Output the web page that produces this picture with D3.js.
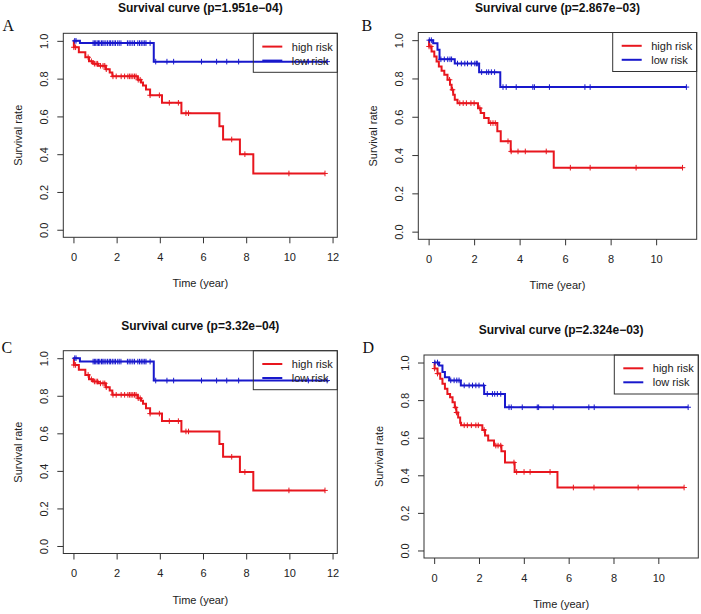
<!DOCTYPE html>
<html>
<head>
<meta charset="utf-8">
<script src="https://cdn.jsdelivr.net/npm/d3@7"></script>
<style>
  body { margin: 0; background: #fff; }
  svg { display: block; font-family: "Liberation Sans", Arial, sans-serif; }
</style>
</head>
<body>
<div id="chart"></div>
<script>
// ---- values: [time (year), survival] steps and censor times ----
const titles = [
  "Survival curve (p=1.951e\u221204)",
  "Survival curve (p=2.867e\u221203)",
  "Survival curve (p=3.32e\u221204)",
  "Survival curve (p=2.324e\u221203)"
];
const letters = ["A", "B", "C", "D"];
const seriesNames = ["high risk", "low risk"];
const yTicks = [0, 0.2, 0.4, 0.6, 0.8, 1.0];
const xTicksLong = [0, 2, 4, 6, 8, 10, 12];
const xTicksShort = [0, 2, 4, 6, 8, 10];

// panel A
const aHigh = [[0, 1], [0.02, 0.966], [0.25, 0.94], [0.55, 0.913], [0.72, 0.892], [0.9, 0.879],
  [1.14, 0.868], [1.5, 0.85], [1.68, 0.833], [1.8, 0.812], [2.98, 0.794], [3.13, 0.78],
  [3.22, 0.763], [3.36, 0.742], [3.55, 0.712], [4.1, 0.672], [5.0, 0.617], [6.76, 0.548],
  [6.93, 0.478], [7.71, 0.40], [8.33, 0.298]];
const aHighCens = [0.02, 0.1, 0.68, 0.83, 0.97, 1.05, 1.12, 1.25, 1.37, 1.45, 1.52, 1.83, 1.98,
  2.21, 2.37, 2.52, 2.6, 2.67, 2.75, 2.83, 2.9, 3.0, 3.09, 3.55, 3.98, 4.44, 4.86, 5.21, 5.33,
  7.33, 7.94, 9.98, 11.65];
const aLow = [[0, 1], [0.3, 0.988], [3.72, 0.89]];
const aLowCens = [0.06, 0.12, 0.91, 0.97, 1.03, 1.1, 1.16, 1.22, 1.3, 1.36, 1.42, 1.5, 1.58, 1.66,
  1.72, 1.8, 1.88, 1.95, 2.05, 2.12, 2.2, 2.5, 2.58, 2.66, 2.75, 2.83, 2.98, 3.06, 3.14, 3.22,
  3.3, 3.36, 3.55, 3.81, 4.33, 4.64, 5.93, 6.63, 7.1, 7.65, 10.88, 11.75];

// panel B
const bHigh = [[0, 1], [0.02, 0.967], [0.13, 0.941], [0.25, 0.915], [0.35, 0.889], [0.45, 0.863],
  [0.57, 0.84], [0.69, 0.819], [0.83, 0.793], [0.94, 0.767], [1.01, 0.741], [1.08, 0.715],
  [1.15, 0.689], [1.27, 0.671], [2.17, 0.645], [2.29, 0.619], [2.44, 0.593], [2.64, 0.567],
  [3.02, 0.524], [3.17, 0.472], [3.61, 0.419], [5.5, 0.334]];
const bHighCens = [0.02, 0.1, 0.92, 1.05, 1.37, 1.52, 1.66, 1.86, 2.0, 2.25, 2.73, 2.83, 2.93,
  3.49, 3.63, 3.93, 4.25, 5.17, 6.23, 7.1, 9.12, 11.16];
const bLow = [[0, 1], [0.2, 0.984], [0.39, 0.95], [0.48, 0.9], [1.15, 0.878], [2.22, 0.833],
  [3.15, 0.755]];
const bLowCens = [0.03, 0.12, 0.54, 0.69, 0.84, 0.94, 1.01, 1.27, 1.44, 1.59, 1.71, 1.88, 2.03,
  2.1, 2.14, 2.33, 2.55, 2.64, 2.76, 2.9, 3.27, 3.41, 3.85, 4.58, 4.65, 5.31, 6.87, 7.1, 11.33];

// panel C
const cHigh = [[0, 1], [0.02, 0.964], [0.25, 0.938], [0.55, 0.911], [0.72, 0.888], [0.9, 0.876],
  [1.14, 0.866], [1.5, 0.846], [1.68, 0.828], [1.8, 0.805], [2.98, 0.787], [3.13, 0.774],
  [3.22, 0.757], [3.36, 0.734], [3.55, 0.705], [4.1, 0.665], [5.0, 0.61], [6.76, 0.543],
  [6.93, 0.475], [7.71, 0.394], [8.33, 0.296]];
const cHighCens = [0.02, 0.1, 0.68, 0.83, 0.97, 1.05, 1.12, 1.25, 1.37, 1.45, 1.52, 1.83, 1.98,
  2.21, 2.37, 2.52, 2.6, 2.67, 2.75, 2.83, 2.9, 3.0, 3.09, 3.55, 3.98, 4.44, 4.86, 5.21, 5.33,
  7.33, 7.94, 9.98, 11.65];
const cLow = [[0, 1], [0.3, 0.982], [3.72, 0.881]];
const cLowCens = [0.06, 0.12, 0.91, 0.97, 1.03, 1.1, 1.16, 1.22, 1.3, 1.36, 1.42, 1.5, 1.58, 1.66,
  1.72, 1.8, 1.88, 1.95, 2.05, 2.12, 2.2, 2.5, 2.58, 2.66, 2.75, 2.83, 2.98, 3.06, 3.14, 3.22,
  3.3, 3.36, 3.55, 3.81, 4.33, 4.64, 5.93, 6.63, 7.1, 7.65, 10.88, 11.75];

// panel D
const dHigh = [[0, 1], [0.02, 0.968], [0.15, 0.941], [0.27, 0.914], [0.37, 0.887], [0.48, 0.86],
  [0.59, 0.833], [0.71, 0.815], [0.82, 0.788], [0.92, 0.761], [0.99, 0.734], [1.07, 0.707],
  [1.16, 0.68], [1.2, 0.666], [2.15, 0.641], [2.27, 0.612], [2.41, 0.585], [2.67, 0.558],
  [3.0, 0.528], [3.16, 0.468], [3.59, 0.418], [5.5, 0.335]];
const dHighCens = [0.02, 0.15, 0.95, 1.0, 1.34, 1.48, 1.66, 1.86, 1.97, 2.23, 2.75, 2.85, 2.97,
  3.56, 3.68, 4.01, 4.28, 5.17, 6.21, 7.13, 9.1, 11.15];
const dLow = [[0, 1], [0.22, 0.984], [0.37, 0.95], [0.48, 0.922], [0.67, 0.905], [1.19, 0.878],
  [2.23, 0.833], [3.16, 0.762]];
const dLowCens = [0.03, 0.15, 0.74, 0.89, 1.01, 1.11, 1.34, 1.56, 1.71, 1.86, 2.0, 2.2, 2.37, 2.6,
  2.7, 2.82, 2.97, 3.34, 3.44, 3.93, 4.6, 4.66, 5.31, 6.9, 7.14, 11.33];

// ---- layout (plot box per panel, in page pixels) ----
const panels = [
  { title: titles[0], letter: letters[0], high: aHigh, highCens: aHighCens, low: aLow, lowCens: aLowCens,
    xTicks: xTicksLong, box: [63.3, 33.3, 337.3, 237.3], letterAt: [2.5, 30.7] },
  { title: titles[1], letter: letters[1], high: bHigh, highCens: bHighCens, low: bLow, lowCens: bLowCens,
    xTicks: xTicksShort, box: [418.3, 32.5, 696.7, 239.3], letterAt: [361.5, 30.7] },
  { title: titles[2], letter: letters[2], high: cHigh, highCens: cHighCens, low: cLow, lowCens: cLowCens,
    xTicks: xTicksLong, box: [63.3, 350.7, 337.3, 553.5], letterAt: [1.5, 352.7] },
  { title: titles[3], letter: letters[3], high: dHigh, highCens: dHighCens, low: dLow, lowCens: dLowCens,
    xTicks: xTicksShort, box: [424, 355, 698.3, 558], letterAt: [362.5, 352.7] }
];

const colors = ["#e8161e", "#1818cc"];
const ink = "#222";

const svg = d3.select("#chart").append("svg")
  .attr("width", 701)
  .attr("height", 614);

// survival value at time t of a step curve
function survAt(steps, t) {
  let s = steps[0][1];
  steps.forEach(d => { if (d[0] <= t) s = d[1]; });
  return s;
}

const line = d3.line().curve(d3.curveStepAfter);

panels.forEach(p => {
  const [x0, y0, x1, y1] = p.box;
  const tEnd = d3.max([p.high, p.low, p.highCens.map(t => [t]), p.lowCens.map(t => [t])], arr => d3.max(arr, d => d[0]));
  // R pads the axis range by 4% on each side
  const x = d3.scaleLinear().domain([-0.04 * tEnd, 1.04 * tEnd]).range([x0, x1]);
  const y = d3.scaleLinear().domain([-0.04, 1.04]).range([y1, y0]);

  const g = svg.append("g");

  // curves
  [[p.high, p.highCens], [p.low, p.lowCens]].forEach(([steps, cens], i) => {
    const end = d3.max(cens.concat(steps.map(d => d[0])));
    const pts = steps.map(d => [x(d[0]), y(d[1])]);
    pts.push([x(end), y(steps[steps.length - 1][1])]);
    g.append("path")
      .attr("d", line(pts))
      .attr("fill", "none")
      .attr("stroke", colors[i])
      .attr("stroke-width", 2);

    g.append("path")
      .attr("d", cens.map(t => {
        const cx = x(t), cy = y(survAt(steps, t));
        return `M${cx - 2.8},${cy}h5.6M${cx},${cy - 2.8}v5.6`;
      }).join(""))
      .attr("fill", "none")
      .attr("stroke", colors[i])
      .attr("stroke-width", 1);
  });

  // plot box
  g.append("rect")
    .attr("x", x0).attr("y", y0)
    .attr("width", x1 - x0).attr("height", y1 - y0)
    .attr("fill", "none")
    .attr("stroke", "#333")
    .attr("stroke-width", 1);

  // x axis
  const gx = g.append("g")
    .attr("transform", `translate(0,${y1})`)
    .call(d3.axisBottom(x).tickValues(p.xTicks).tickSize(6).tickSizeOuter(0).tickFormat(d3.format("d")));
  gx.select(".domain").remove();
  gx.selectAll("line").attr("stroke", "#333");
  gx.selectAll("text")
    .attr("y", 16).attr("dy", "0.71em")
    .attr("fill", ink)
    .style("font-size", "11px")
    .style("font-family", "'Liberation Sans', Arial, sans-serif");

  // y axis, labels parallel to the axis like R
  const gy = g.append("g")
    .attr("transform", `translate(${x0},0)`)
    .call(d3.axisLeft(y).tickValues(yTicks).tickSize(6).tickSizeOuter(0).tickFormat(d3.format(".1f")));
  gy.select(".domain").remove();
  gy.selectAll("line").attr("stroke", "#333");
  gy.selectAll("text")
    .attr("transform", "rotate(-90)")
    .attr("x", 0).attr("y", -15).attr("dy", 0)
    .attr("text-anchor", "middle")
    .attr("fill", ink)
    .style("font-size", "11px")
    .style("font-family", "'Liberation Sans', Arial, sans-serif");

  // axis titles
  g.append("text")
    .attr("x", (x0 + x1) / 2).attr("y", y1 + 50)
    .attr("text-anchor", "middle")
    .attr("font-size", 11)
    .attr("fill", ink)
    .text("Time (year)");
  g.append("text")
    .attr("transform", `translate(${x0 - 41},${(y0 + y1) / 2}) rotate(-90)`)
    .attr("text-anchor", "middle")
    .attr("font-size", 11)
    .attr("fill", ink)
    .text("Survival rate");

  // main title
  g.append("text")
    .attr("x", (x0 + x1) / 2).attr("y", y0 - 21)
    .attr("text-anchor", "middle")
    .attr("font-size", 12)
    .attr("font-weight", "bold")
    .attr("fill", "#111")
    .text(p.title);

  // panel letter
  g.append("text")
    .attr("x", p.letterAt[0]).attr("y", p.letterAt[1])
    .attr("font-family", "'Liberation Serif', 'Times New Roman', serif")
    .attr("font-size", 16)
    .attr("fill", "#111")
    .text(p.letter);

  // legend, top right, no fill
  const lw = 84, lh = 39;
  const lg = g.append("g").attr("transform", `translate(${x1 - lw},${y0})`);
  lg.append("rect")
    .attr("width", lw).attr("height", lh)
    .attr("fill", "none")
    .attr("stroke", "#333")
    .attr("stroke-width", 1);
  seriesNames.forEach((name, i) => {
    const ly = 13.3 + i * 14;
    lg.append("line")
      .attr("x1", 9).attr("x2", 29)
      .attr("y1", ly).attr("y2", ly)
      .attr("stroke", colors[i])
      .attr("stroke-width", 2);
    lg.append("text")
      .attr("x", 38.5).attr("y", ly + 4)
      .attr("font-size", 11)
      .attr("fill", ink)
      .text(name);
  });
});
</script>
</body>
</html>
